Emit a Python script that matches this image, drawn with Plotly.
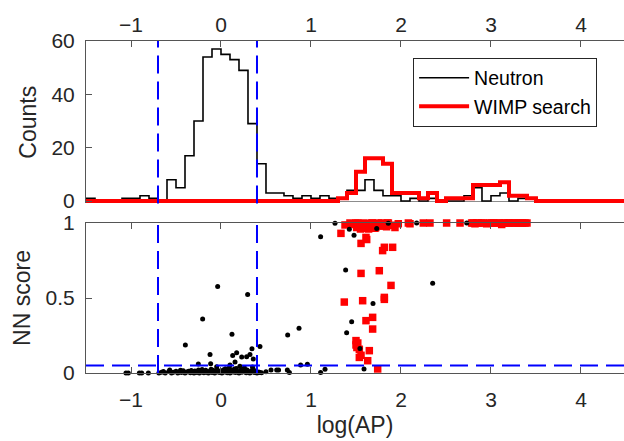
import numpy as np
import plotly.graph_objects as go

# ---------------- data ----------------
BIN_EDGES = np.round(np.arange(-1.5, 4.55, 0.1), 2)  # 60 bins of width 0.1

NEUTRON_COUNTS = [1, 0, 0, 0, 1, 1, 2, 1, 0, 8,
                  5, 17, 30, 54, 57, 55, 53, 49, 29, 14,
                  3, 3, 2, 1, 2, 1, 2, 1, 1, 4,
                  4, 8, 4, 2, 2, 0, 1, 0, 1, 0,
                  0, 0, 2, 5, 0, 2, 3, 0, 1, 1,
                  0, 0, 0, 0, 0, 0, 0, 0, 0, 0]

WIMP_COUNTS = [0, 0, 0, 0, 0, 0, 0, 0, 0, 0,
               0, 0, 0, 0, 0, 0, 0, 0, 0, 0,
               0, 0, 0, 0, 0, 0, 0, 0, 1, 3,
               11, 16, 16, 14, 3, 3, 3, 1, 3, 0,
               1, 1, 1, 6, 6, 6, 7, 2, 2, 1,
               0, 0, 0, 0, 0, 0, 0, 0, 0, 0]

NEUTRON_LOGAP = [-1.056, -1.03, -0.907, -0.881, -0.807, -0.69, -0.66, -0.64, -0.62,
                 -0.58, -0.55, -0.53, -0.5, -0.48, -0.46, -0.44, -0.42, -0.4, -0.38,
                 -0.36, -0.34, -0.32, -0.3, -0.29, -0.27, -0.25, -0.24, -0.22, -0.2,
                 -0.19, -0.17, -0.16, -0.14, -0.13, -0.11, -0.1, -0.08, -0.07, -0.05,
                 -0.04, -0.02, -0.01, 0.01, 0.02, 0.04, 0.05, 0.07, 0.08, 0.1, 0.11,
                 0.13, 0.14, 0.16, 0.17, 0.19, 0.2, 0.22, 0.23, 0.25, 0.26, 0.28, 0.29,
                 0.31, 0.32, 0.34, 0.35, 0.37, 0.38, 0.4, 0.42, 0.45,
                 -0.252, -0.115, 0.1, -0.048, 0.156, -0.122, 0.174, 0.13, 0.23, 0.285,
                 0.322, 0.359, 0.344, 0.433, -0.396, 0.122, -0.204, -0.037, 0.296,
                 0.5, 0.556, 0.619, 0.64, 0.737, 0.76, 0.43, 0.741, 0.867, 0.885,
                 0.96, 1.107, 1.156, 1.107, 1.267, 1.426, 1.478, 1.385, 1.452, 1.396,
                 1.544, 1.589, 1.689, 1.73, 1.859, 2.174, 2.352, 2.73,
                 -0.57, -0.45, -0.33, -0.21, -0.09, 0.03, 0.15, 0.27, 0.36, -0.28,
                 -0.06, 0.06, 0.18, 0.24, 0.33, -0.15, 0.09, 0.21]
NEUTRON_NN = [0.0, 0.0, 0.0, 0.0, 0.0, 0.0, 0.005, 0.01, 0.0,
              0.01, 0.0, 0.005, 0.012, 0.0, 0.008, 0.003, 0.015, 0.0, 0.006,
              0.011, 0.002, 0.009, 0.0, 0.014, 0.004, 0.02, 0.0, 0.007, 0.012,
              0.002, 0.018, 0.005, 0.0, 0.01, 0.025, 0.003, 0.014, 0.0, 0.008,
              0.02, 0.004, 0.012, 0.0, 0.017, 0.006, 0.028, 0.002, 0.013, 0.0, 0.022,
              0.007, 0.015, 0.003, 0.03, 0.009, 0.0, 0.018, 0.005, 0.012, 0.035, 0.002, 0.02,
              0.008, 0.0, 0.015, 0.04, 0.004, 0.01, 0.0, 0.006, 0.002,
              0.06, 0.062, 0.053, 0.042, 0.073, 0.124, 0.135, 0.116, 0.107, 0.109,
              0.124, 0.093, 0.162, 0.176, 0.187, 0.258, 0.36, 0.576, 0.524,
              0.008, 0.02, 0.02, 0.02, 0.02, 0.004, 0.004, 0.253, 0.298, 0.053,
              0.058, 0.909, 0.025, 0.004, 0.998, 0.958, 0.918, 0.687, 0.342, 0.269,
              0.164, 0.027, 0.464, 0.964, 0.998, 1.0, 0.598, 1.0,
              0.02, 0.018, 0.016, 0.024, 0.019, 0.022, 0.026, 0.017, 0.023, 0.01,
              0.01, 0.012, 0.009, 0.008, 0.006, 0.007, 0.033, 0.045]

WIMP_LOGAP = [1.37, 1.556, 1.574, 1.759, 1.889, 1.815, 1.815, 1.611, 1.685, 1.685,
              1.5, 1.5, 1.537, 1.648, 1.556, 1.537, 1.63, 1.741, 1.796, 1.815,
              1.907, 1.556, 1.611, 1.619, 1.333, 1.52, 1.51,
              1.378, 1.433, 1.47, 1.508, 1.537, 1.563, 1.589, 1.619, 1.656, 1.674,
              1.7, 1.73, 1.767, 1.785, 1.822, 1.848, 1.933, 1.97, 2.082, 2.1,
              2.248, 2.322, 2.507, 2.656, 2.785, 2.822, 2.859, 2.896, 2.952, 3.007,
              3.063, 3.119, 3.156, 3.211, 3.267, 3.322, 3.378,
              1.5, 1.55, 1.6, 1.64, 1.68, 1.72, 1.75, 1.8, 1.86, 1.9,
              1.45, 1.52, 1.58, 1.66, 1.71, 1.78, 1.84,
              2.8, 2.84, 2.92, 2.98, 3.03, 3.09, 3.14, 3.19, 3.24, 3.3, 3.35, 3.4]
WIMP_NN = [0.473, 0.664, 0.482, 0.682, 0.584, 0.504, 0.491, 0.349, 0.371, 0.293,
           0.216, 0.187, 0.158, 0.149, 0.118, 0.104, 0.082, 0.027, 0.816, 0.838,
           0.838, 0.864, 0.904, 0.89, 0.931, 0.2, 0.17,
           0.987, 1.0, 0.99, 0.97, 0.995, 0.985, 1.0, 0.975, 0.99, 1.0,
           0.985, 0.995, 0.98, 1.0, 0.99, 1.0, 0.97, 0.995, 1.0, 0.995,
           1.0, 1.0, 1.0, 1.0, 1.0, 0.995, 1.0, 1.0, 0.995, 1.0,
           1.0, 0.99, 1.0, 1.0, 1.0, 1.0, 1.0,
           1.0, 0.96, 0.995, 0.96, 1.0, 0.97, 1.0, 0.98, 1.0, 0.985,
           0.995, 1.0, 0.965, 0.985, 0.965, 0.99, 0.975,
           1.0, 1.0, 1.0, 1.0, 1.0, 1.0, 1.0, 1.0, 1.0, 1.0, 1.0, 1.0]

CUT_LOGAP = [-0.7, 0.4]
CUT_NN = 0.05

X_TICKS = [-1, 0, 1, 2, 3, 4]
X_RANGE = [-1.5, 4.478]
COUNT_TICKS = [0, 20, 40, 60]
NN_TICKS = [0, 0.5, 1]
NN_TICKTEXT = ["0", "0.5", "1"]

# ---------------- figure ----------------
FONT = "Liberation Sans, Arial, sans-serif"
AXC = "#262626"
LINEC = "#555555"

step_neutron = list(NEUTRON_COUNTS) + [NEUTRON_COUNTS[-1]]
step_wimp = list(WIMP_COUNTS) + [WIMP_COUNTS[-1]]

fig = go.Figure()
fig.add_trace(go.Scatter(x=BIN_EDGES, y=step_neutron, mode="lines", line_shape="hv",
                         line=dict(color="black", width=1.6), name="Neutron",
                         xaxis="x", yaxis="y"))
fig.add_trace(go.Scatter(x=BIN_EDGES, y=step_wimp, mode="lines", line_shape="hv",
                         line=dict(color="#ff0000", width=4), name="WIMP search",
                         xaxis="x", yaxis="y"))
fig.add_trace(go.Scatter(x=WIMP_LOGAP, y=WIMP_NN, mode="markers",
                         marker=dict(symbol="square", size=7.5, color="#ff0000"),
                         showlegend=False, cliponaxis=False, xaxis="x2", yaxis="y2"))
fig.add_trace(go.Scatter(x=NEUTRON_LOGAP, y=NEUTRON_NN, mode="markers",
                         marker=dict(symbol="circle", size=5, color="black"),
                         showlegend=False, cliponaxis=False, xaxis="x2", yaxis="y2"))

tickfont = dict(family=FONT, size=21, color=AXC)
titlefont = dict(family=FONT, size=23, color=AXC)
common_x = dict(range=X_RANGE, tickvals=X_TICKS, ticks="inside", ticklen=6,
                tickcolor=LINEC, showgrid=False, zeroline=False, tickfont=tickfont)

fig.update_layout(
    width=624, height=441,
    margin=dict(l=86, r=0, t=41, b=68),
    paper_bgcolor="white", plot_bgcolor="white",
    showlegend=True,
    xaxis=dict(domain=[0, 1], anchor="y", side="top", showline=True, linecolor=LINEC,
               linewidth=1, ticklabelstandoff=0, **common_x),
    xaxis3=dict(overlaying="x", anchor="y", side="bottom", showline=False,
                showticklabels=False, **common_x),
    yaxis=dict(domain=[0.5108, 1], anchor="x", range=[-0.9, 60], tickvals=COUNT_TICKS,
               ticks="inside", ticklen=6, tickcolor=LINEC, showline=True, linecolor=LINEC,
               showgrid=False, zeroline=True, zerolinecolor="#8c8c8c", zerolinewidth=1,
               tickfont=tickfont, ticklabelstandoff=6,
               title=dict(text="Counts", font=titlefont, standoff=8)),
    xaxis2=dict(domain=[0, 1], anchor="y2", side="bottom", showline=True, linecolor=LINEC,
                mirror="ticks", ticklabelstandoff=8,
                title=dict(text="log(AP)", font=titlefont, standoff=6), **common_x),
    yaxis2=dict(domain=[0, 0.4518], anchor="x2", range=[0, 1], tickvals=NN_TICKS,
                ticktext=NN_TICKTEXT, ticks="inside", ticklen=6, tickcolor=LINEC,
                showline=True, linecolor=LINEC, showgrid=False, zeroline=False,
                tickfont=tickfont, ticklabelstandoff=6,
                title=dict(text="NN score", font=titlefont, standoff=8)),
    legend=dict(x=0.608, y=0.95, xanchor="left", yanchor="top", bgcolor="white",
                bordercolor=AXC, borderwidth=1, font=dict(family=FONT, size=19.5, color="black"),
                itemwidth=50, tracegroupgap=0),
)

dash = dict(color="#0000ff", width=2, dash="18px,8px")
for v in CUT_LOGAP:
    fig.add_shape(type="line", xref="x", yref="y domain", x0=v, x1=v, y0=0, y1=1, line=dash)
    fig.add_shape(type="line", xref="x2", yref="y2 domain", x0=v, x1=v, y0=0, y1=1, line=dash)
fig.add_shape(type="line", xref="x2 domain", yref="y2", x0=0, x1=1, y0=CUT_NN, y1=CUT_NN, line=dash)

fig.write_html("out.html", config={"displayModeBar": False},
               post_script="document.body.style.margin='0';document.body.style.overflow='hidden';")
